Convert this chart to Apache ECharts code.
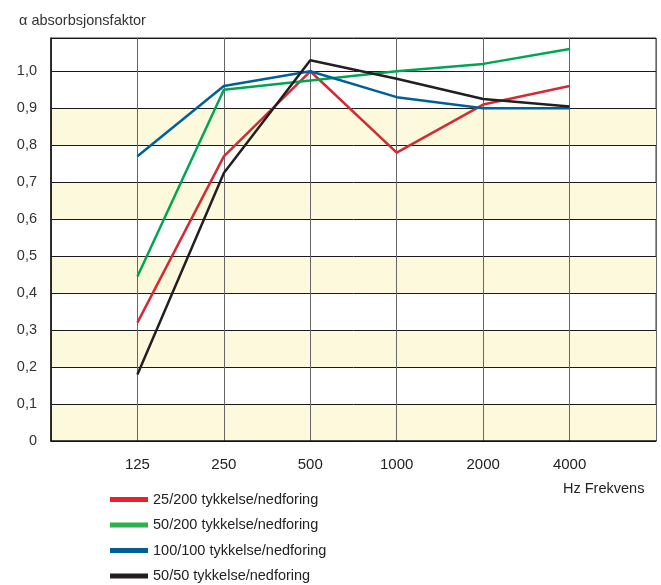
<!DOCTYPE html>
<html>
<head>
<meta charset="utf-8">
<script src="https://cdn.jsdelivr.net/npm/echarts@6/dist/echarts.min.js"></script>
<style>
  html, body { margin: 0; padding: 0; background: #fff; }
  #chart { width: 661px; height: 585px; }
</style>
</head>
<body>
<div id="chart"></div>
<script>
// frekvenser (Hz) og målte absorpsjonsfaktorer
const freqLabels = ["125", "250", "500", "1000", "2000", "4000"];
const seriesNames = [
  "25/200 tykkelse/nedforing",
  "50/200 tykkelse/nedforing",
  "100/100 tykkelse/nedforing",
  "50/50 tykkelse/nedforing"
];
const red25_200 = [0.32, 0.77, 1.0, 0.78, 0.91, 0.96];
const green50_200 = [0.445, 0.95, 0.975, 1.0, 1.02, 1.06];
const blue100_100 = [0.77, 0.96, 1.0, 0.93, 0.90, 0.90];
const black50_50 = [0.18, 0.725, 1.03, 0.98, 0.925, 0.905];
// gule bånd i bakgrunnen
const bands = [[0, 0.1], [0.2, 0.3], [0.4, 0.5], [0.6, 0.7], [0.8, 0.9]];

const lineColors = ["#d42a33", "#00a551", "#00609a", "#231f20"];
const legendColors = ["#ea1f2b", "#2bb24c", "#005f98", "#231f20"];
const values = [red25_200, green50_200, blue100_100, black50_50];

// posisjon 1..6 på x-aksen, 0 og 7 er tomme kanter
const toPoints = arr => arr.map((v, i) => [i + 1, v]);

const chart = echarts.init(document.getElementById("chart"));

const series = values.map((arr, k) => ({
  name: seriesNames[k],
  type: "line",
  data: toPoints(arr),
  symbol: "none",
  lineStyle: { color: lineColors[k], width: 2.5 },
  itemStyle: { color: legendColors[k] },
  z: 5
}));

// bakgrunnsbånd
series.unshift({
  type: "line",
  data: [],
  silent: true,
  markArea: {
    silent: true,
    itemStyle: { color: "#fdf9dc" },
    data: bands.map(b => [{ yAxis: b[0] }, { yAxis: b[1] }])
  },
  z: 1
});

chart.setOption({
  animation: false,
  backgroundColor: "#fff",
  title: {
    text: "α absorbsjonsfaktor",
    left: 14,
    top: 8,
    textStyle: { fontFamily: "Liberation Sans, Arial", fontSize: 14.5, fontWeight: "normal", color: "#333" }
  },
  grid: {
    left: 51, right: 5, top: 38, bottom: 144,
    show: true, borderColor: "#333", borderWidth: 1, backgroundColor: "#fff"
  },
  legend: {
    orient: "vertical",
    left: 110,
    top: 492,
    padding: 0,
    itemWidth: 38,
    itemHeight: 5,
    itemGap: 10.5,
    icon: "rect",
    data: seriesNames.map((n, k) => ({ name: n, itemStyle: { color: legendColors[k] } })),
    textStyle: { fontFamily: "Liberation Sans, Arial", fontSize: 14.5, color: "#222" }
  },
  graphic: [{
    type: "text",
    left: 563,
    top: 481,
    style: { text: "Hz Frekvens", font: "14.5px 'Liberation Sans', Arial", fill: "#222" }
  }],
  xAxis: {
    type: "value",
    min: 0,
    max: 7,
    interval: 1,
    z: 3,
    axisLine: { show: true, lineStyle: { color: "#111", width: 1.5 } },
    axisTick: { show: false },
    axisLabel: {
      margin: 16,
      fontFamily: "Liberation Sans, Arial",
      fontSize: 15,
      color: "#222",
      formatter: v => (v >= 1 && v <= 6 ? freqLabels[v - 1] : "")
    },
    splitLine: { show: true, lineStyle: { color: "#666", width: 1 } }
  },
  yAxis: {
    type: "value",
    min: 0,
    max: 1.09,
    interval: 0.1,
    z: 3,
    axisLine: { show: true, lineStyle: { color: "#111", width: 1.5 } },
    axisTick: { show: false },
    axisLabel: {
      margin: 14,
      fontFamily: "Liberation Sans, Arial",
      fontSize: 14.5,
      color: "#333",
      showMaxLabel: false,
      formatter: v => (v > 1.05 ? "" : v === 0 ? "0" : v.toFixed(1).replace(".", ","))
    },
    splitLine: { show: true, lineStyle: { color: "#1a1a1a", width: 1 } }
  },
  series
});
</script>
</body>
</html>
